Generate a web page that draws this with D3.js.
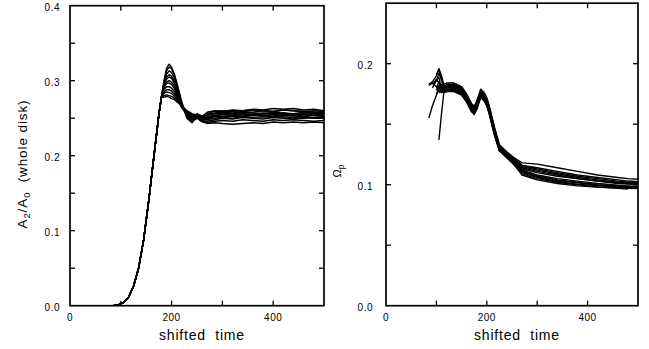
<!DOCTYPE html>
<html><head><meta charset="utf-8">
<script src="https://cdn.jsdelivr.net/npm/d3@7/dist/d3.min.js"></script>
<style>
html,body{margin:0;padding:0;background:#fff;}
text{font-family:"Liberation Sans",Arial,Helvetica,sans-serif;fill:#000;}
</style></head>
<body><svg id="c" width="649" height="349"></svg>
<script>
// ---------- Left panel data: A2/A0 (whole disk) ----------
const riseT = [85,95,105,115,125,135,145,155,165,175,180];
const riseV = [0,0.001,0.004,0.011,0.026,0.05,0.088,0.14,0.198,0.255,0.278];
const tailT = [185,190,195,200,205,210,220,230,240,250,260,270,285,300,320,340,360,380,400,420,440,460,480,500];
const a1  = [0.300,0.316,0.322,0.318,0.310,0.298,0.272,0.252,0.246,0.255,0.252,0.258,0.260,0.259,0.261,0.260,0.262,0.261,0.263,0.262,0.263,0.261,0.262,0.260];
const a2  = [0.298,0.313,0.318,0.316,0.308,0.296,0.270,0.250,0.244,0.252,0.250,0.255,0.257,0.258,0.257,0.259,0.258,0.260,0.259,0.261,0.260,0.259,0.258,0.258];
const a3  = [0.296,0.309,0.313,0.311,0.304,0.293,0.268,0.255,0.250,0.256,0.252,0.250,0.253,0.255,0.254,0.256,0.255,0.257,0.256,0.257,0.255,0.256,0.255,0.254];
const a4  = [0.295,0.305,0.308,0.306,0.300,0.290,0.267,0.258,0.252,0.254,0.250,0.249,0.252,0.251,0.253,0.252,0.254,0.253,0.252,0.254,0.253,0.252,0.254,0.252];
const a5  = [0.294,0.302,0.305,0.303,0.297,0.288,0.265,0.256,0.248,0.252,0.247,0.246,0.248,0.250,0.249,0.251,0.250,0.249,0.251,0.250,0.249,0.251,0.250,0.250];
const a6  = [0.292,0.298,0.300,0.298,0.293,0.285,0.266,0.258,0.252,0.251,0.246,0.244,0.246,0.247,0.246,0.248,0.247,0.246,0.248,0.247,0.248,0.247,0.246,0.247];
const a7  = [0.291,0.296,0.297,0.295,0.290,0.283,0.264,0.254,0.245,0.250,0.245,0.243,0.244,0.243,0.242,0.243,0.244,0.243,0.245,0.244,0.245,0.244,0.245,0.244];
const a8  = [0.288,0.292,0.292,0.290,0.286,0.280,0.265,0.256,0.250,0.254,0.252,0.254,0.256,0.257,0.256,0.258,0.257,0.256,0.258,0.257,0.256,0.258,0.257,0.256];
const a9  = [0.285,0.288,0.288,0.286,0.283,0.278,0.264,0.257,0.253,0.255,0.253,0.256,0.259,0.260,0.259,0.260,0.261,0.260,0.259,0.261,0.260,0.259,0.260,0.259];
const a10 = [0.283,0.285,0.284,0.283,0.280,0.276,0.266,0.258,0.254,0.253,0.249,0.248,0.250,0.251,0.250,0.252,0.251,0.252,0.251,0.252,0.251,0.250,0.251,0.251];
const a11 = [0.280,0.281,0.280,0.279,0.277,0.274,0.266,0.259,0.255,0.252,0.248,0.251,0.253,0.252,0.254,0.253,0.255,0.254,0.253,0.255,0.254,0.253,0.254,0.253];
const a12 = [0.278,0.279,0.278,0.276,0.275,0.272,0.267,0.260,0.256,0.254,0.251,0.252,0.254,0.255,0.254,0.256,0.255,0.256,0.255,0.254,0.256,0.255,0.256,0.255];
const leftSeries = [a1,a2,a3,a4,a5,a6,a7,a8,a9,a10,a11,a12];

// ---------- Right panel data: Omega_p ----------
const rT = [85,92,100,105,110,115,120,135,150,160,170,175,180,188,195,200,205,215,225,240,255,270,300,340,380,420,460,480,500];
const r1  = [0.155,0.165,0.174,0.179,0.182,0.183,0.184,0.184,0.181,0.175,0.167,0.165,0.169,0.179,0.176,0.172,0.165,0.148,0.133,0.127,0.122,0.118,0.117,0.114,0.111,0.108,0.106,0.105,0.1045];
const r2  = [null,null,null,0.137,0.158,0.177,0.183,0.183,0.180,0.174,0.166,0.164,0.168,0.178,0.175,0.171,0.164,0.147,0.132,0.127,0.121,0.116,0.114,0.111,0.108,0.106,0.104,0.103,0.1025];
const r3  = [0.183,0.185,0.190,0.195,0.186,0.181,0.182,0.182,0.179,0.173,0.165,0.163,0.167,0.177,0.174,0.170,0.163,0.146,0.131,0.126,0.120,0.115,0.112,0.109,0.106,0.104,0.102,0.1015,0.101];
const r4  = [null,null,0.191,0.196,0.190,0.182,0.181,0.181,0.178,0.172,0.164,0.162,0.166,0.176,0.173,0.169,0.162,0.145,0.130,0.125,0.119,0.113,0.110,0.107,0.105,0.103,0.101,0.1005,0.100];
const r5  = [null,null,0.186,0.192,0.188,0.180,0.180,0.180,0.177,0.171,0.163,0.161,0.165,0.175,0.172,0.168,0.161,0.144,0.130,0.124,0.118,0.112,0.108,0.105,0.103,0.101,0.0995,0.099,0.0985];
const r6  = [null,0.180,0.186,0.189,0.178,0.178,0.179,0.179,0.176,0.170,0.162,0.160,0.164,0.174,0.171,0.167,0.160,0.143,0.129,0.124,0.118,0.111,0.107,0.104,0.102,0.100,0.099,0.0985,0.098];
const r7  = [null,null,0.180,0.185,0.180,0.177,0.178,0.178,0.175,0.169,0.161,0.159,0.163,0.173,0.170,0.166,0.159,0.142,0.128,0.123,0.117,0.109,0.105,0.102,0.100,0.098,0.097,0.0963,null];
const r8  = [0.182,0.184,0.181,0.178,0.176,0.177,0.177,0.177,0.174,0.168,0.160,0.158,0.162,0.172,0.169,0.165,0.158,0.141,0.128,0.122,0.116,0.108,0.104,0.101,0.099,0.098,0.0975,0.097,0.0968];
const r9  = [null,null,0.175,0.180,0.183,0.180,0.181,0.182,0.179,0.173,0.166,0.164,0.168,0.177,0.174,0.170,0.163,0.146,0.131,0.126,0.121,0.116,0.113,0.110,0.107,0.105,0.103,0.102,0.1015];
const r10 = [null,null,null,0.176,0.178,0.179,0.180,0.180,0.177,0.171,0.163,0.161,0.165,0.175,0.172,0.168,0.161,0.144,0.129,0.125,0.119,0.114,0.111,0.108,0.105,0.103,0.1015,0.101,0.1005];
const r11 = [null,0.183,0.187,0.184,0.181,0.179,0.179,0.179,0.176,0.170,0.162,0.160,0.164,0.174,0.171,0.167,0.160,0.143,0.129,0.124,0.118,0.111,0.107,0.1035,0.1015,0.0995,0.0985,0.098,0.0978];
const r12 = [null,null,0.178,0.182,0.177,0.176,0.177,0.178,0.175,0.169,0.161,0.159,0.163,0.173,0.170,0.166,0.159,0.142,0.128,0.123,0.117,0.110,0.106,0.1025,0.1005,0.099,0.098,0.0975,0.0972];
const rightSeries = [r1,r2,r3,r4,r5,r6,r7,r8,r9,r10,r11,r12];

// ---------- Tick labels ----------
const xTickLabels = [0,200,400];
const xTicksAll = [100,200,300,400];
const leftYLabels = [0,0.1,0.2,0.3,0.4];
const leftYTicks = [0.05,0.1,0.15,0.2,0.25,0.3,0.35];
const rightYLabels = [0,0.1,0.2];
const rightYTicks = [0.05,0.1,0.15,0.2];

const svg = d3.select("#c");
svg.append("rect").attr("width",649).attr("height",349).attr("fill","#fff");

function panel(x0,x1,y0,y1,yDom,yLabels,yTicks,series,times,labelEnd){
  const x = d3.scaleLinear().domain([0,500]).range([x0,x1]);
  const y = d3.scaleLinear().domain(yDom).range([y1,y0]);
  const g = svg.append("g");
  const clipId = "clip"+x0;
  svg.append("clipPath").attr("id",clipId).append("rect")
    .attr("x",x0).attr("y",y0).attr("width",x1-x0).attr("height",y1-y0);
  const line = d3.line().defined(d=>d[1]!=null).x(d=>x(d[0])).y(d=>y(d[1]));
  const lg = g.append("g").attr("clip-path",`url(#${clipId})`);
  series.forEach(s=>{
    const pts = times(s);
    lg.append("path").attr("d",line(pts)).attr("fill","none")
      .attr("stroke","#000").attr("stroke-width",1.4).attr("stroke-linejoin","round");
  });
  g.append("rect").attr("x",x0).attr("y",y0).attr("width",x1-x0).attr("height",y1-y0)
    .attr("fill","none").attr("stroke","#000").attr("stroke-width",1.7);
  const tl = 5;
  xTicksAll.forEach(t=>{
    g.append("line").attr("x1",x(t)).attr("x2",x(t)).attr("y1",y1).attr("y2",y1-tl).attr("stroke","#000").attr("stroke-width",1.3);
    g.append("line").attr("x1",x(t)).attr("x2",x(t)).attr("y1",y0).attr("y2",y0+tl).attr("stroke","#000").attr("stroke-width",1.3);
  });
  yTicks.forEach(t=>{
    g.append("line").attr("x1",x0).attr("x2",x0+tl).attr("y1",y(t)).attr("y2",y(t)).attr("stroke","#000").attr("stroke-width",1.3);
    g.append("line").attr("x1",x1).attr("x2",x1-tl).attr("y1",y(t)).attr("y2",y(t)).attr("stroke","#000").attr("stroke-width",1.3);
  });
  xTickLabels.forEach(t=>{
    g.append("text").attr("x",x(t)).attr("y",y1+15).attr("text-anchor","middle")
      .attr("font-size",10).attr("letter-spacing",0.5).text(t);
  });
  yLabels.forEach(t=>{
    g.append("text").attr("x",labelEnd).attr("y",y(t)+5).attr("text-anchor","end")
      .attr("font-size",10).attr("letter-spacing",0.5).text(d3.format(".1f")(t));
  });
  g.append("text").attr("x",(x0+x1)/2+5).attr("y",340).attr("text-anchor","middle")
    .attr("font-size",14).attr("letter-spacing",0.8).style("white-space","pre").text("shifted  time");
  return {x,y,g};
}

panel(70,324,5.7,305.7,[0,0.4],leftYLabels,leftYTicks,leftSeries,
  s=>riseT.map((t,i)=>[t,riseV[i]]).concat(tailT.map((t,i)=>[t,s[i]])),60);
panel(386,638,3.2,305.7,[0,0.25],rightYLabels,rightYTicks,rightSeries,
  s=>rT.map((t,i)=>[t,s[i]]),373);

const yl = svg.append("text").attr("transform","translate(27,164) rotate(-90)")
  .attr("text-anchor","middle").attr("font-size",13.5).attr("letter-spacing",0.9);
yl.append("tspan").text("A");
yl.append("tspan").attr("font-size",9.5).attr("dy",3).text("2");
yl.append("tspan").attr("dy",-3).text("/A");
yl.append("tspan").attr("font-size",9.5).attr("dy",3).text("0");
yl.append("tspan").attr("dy",-3).style("white-space","pre").text("  (whole disk)");

const yr = svg.append("text").attr("transform","translate(341,171) rotate(-90)")
  .attr("text-anchor","middle").attr("font-size",11);
yr.append("tspan").text("Ω");
yr.append("tspan").attr("font-size",8.5).attr("dy",3).text("p");
</script></body></html>
